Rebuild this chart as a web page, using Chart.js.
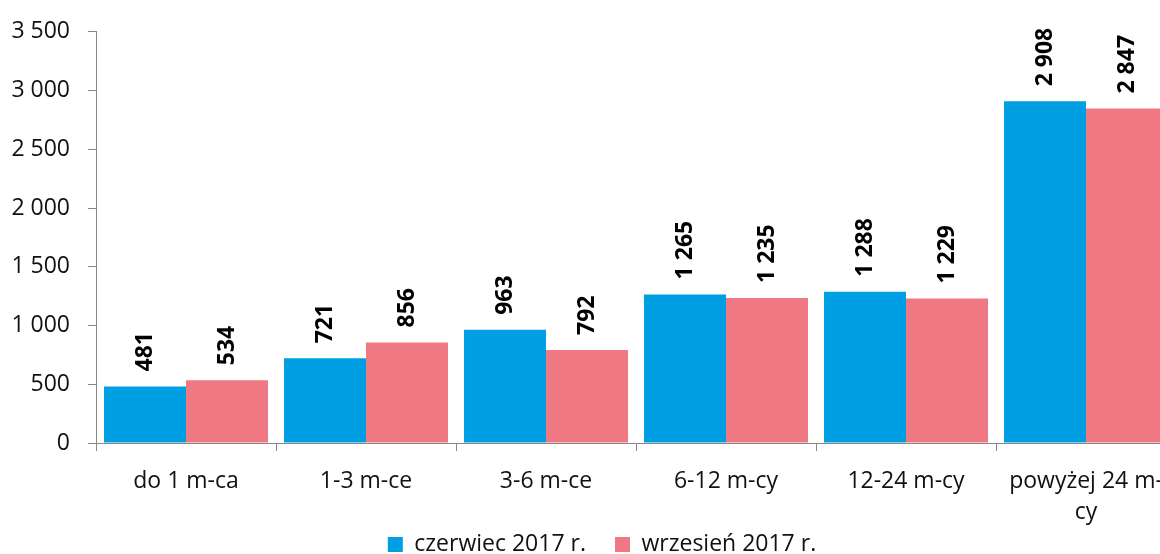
<!DOCTYPE html>
<html>
<head>
<meta charset="utf-8">
<script src="https://cdn.jsdelivr.net/npm/chart.js@4/dist/chart.umd.min.js"></script>
<style>
  html, body { margin: 0; padding: 0; background: #fff; overflow: hidden; }
  #wrap { position: relative; width: 1176px; height: 590px; }
</style>
</head>
<body>
<div id="wrap"><canvas id="chart"></canvas></div>
<script>
// Unemployed by duration of unemployment
const categories = ['do 1 m-ca', '1-3 m-ce', '3-6 m-ce', '6-12 m-cy', '12-24 m-cy', ['powyżej 24 m-', 'cy']];
const seriesNames = ['czerwiec 2017 r.', 'wrzesień 2017 r.'];
const czerwiec2017 = [481, 721, 963, 1265, 1288, 2908];
const wrzesien2017 = [534, 856, 792, 1235, 1229, 2847];
const yTickValues = [0, 500, 1000, 1500, 2000, 2500, 3000, 3500];
const yTickLabels = ['0', '500', '1 000', '1 500', '2 000', '2 500', '3 000', '3 500'];

const FONT = '"Open Sans", "Noto Sans", sans-serif';
const FONT_SIZE = 23;
const fmt = v => String(v).replace(/\B(?=(\d{3})+(?!\d))/g, ' ');

// Vertical value labels above each bar
const barValueLabels = {
  id: 'barValueLabels',
  afterDatasetsDraw(chart) {
    const { ctx } = chart;
    ctx.save();
    ctx.font = 'bold ' + FONT_SIZE + 'px ' + FONT;
    ctx.fillStyle = '#000';
    ctx.textAlign = 'left';
    ctx.textBaseline = 'middle';
    chart.data.datasets.forEach((ds, i) => {
      chart.getDatasetMeta(i).data.forEach((bar, j) => {
        ctx.save();
        ctx.translate(bar.x, bar.y - 15);
        ctx.rotate(-Math.PI / 2);
        ctx.fillText(fmt(ds.data[j]), 0, 0);
        ctx.restore();
      });
    });
    ctx.restore();
  }
};

// Move the legend row up close under the two-line axis labels, a bit right of centre
const legendOffset = {
  id: 'legendOffset',
  afterLayout(chart) {
    const lg = chart.legend;
    if (lg) {
      lg.left += 14;
      lg.right += 14;
      lg.top -= 24;
      lg.bottom -= 24;
    }
  }
};

new Chart(document.getElementById('chart'), {
  type: 'bar',
  data: {
    labels: categories,
    datasets: [
      { label: seriesNames[0], data: czerwiec2017, backgroundColor: '#009fe3', borderWidth: 0 },
      { label: seriesNames[1], data: wrzesien2017, backgroundColor: '#f07882', borderWidth: 0 }
    ]
  },
  options: {
    responsive: true,
    maintainAspectRatio: false,
    animation: false,
    datasets: { bar: { categoryPercentage: 0.911, barPercentage: 1.0 } },
    layout: { padding: { top: 29, left: 0, right: 0, bottom: 0 } },
    plugins: {
      legend: {
        position: 'bottom',
        labels: {
          boxWidth: 15,
          boxHeight: 15,
          padding: 29,
          color: '#111',
          font: { family: FONT, size: FONT_SIZE }
        }
      },
      tooltip: { enabled: false }
    },
    scales: {
      x: {
        grid: { display: true, drawOnChartArea: false, drawTicks: true, tickLength: 8, color: '#888', offset: true },
        border: { display: true, color: '#888', width: 1 },
        ticks: { color: '#111', padding: 15, maxRotation: 0, autoSkip: false, font: { family: FONT, size: FONT_SIZE, lineHeight: 1.35 } },
        afterFit(scale) {
          scale.height = 85;
          scale.paddingLeft = 0;
          scale.paddingRight = 0;
        }
      },
      y: {
        min: 0,
        max: 3500,
        afterBuildTicks(scale) { scale.ticks = yTickValues.map(v => ({ value: v })); },
        grid: { display: true, drawOnChartArea: false, drawTicks: true, tickLength: 8, color: '#888' },
        border: { display: true, color: '#888', width: 1 },
        ticks: {
          color: '#111',
          padding: 18,
          font: { family: FONT, size: FONT_SIZE },
          callback: (v) => yTickLabels[yTickValues.indexOf(v)]
        },
        afterFit(scale) { scale.width = 96; }
      }
    }
  },
  plugins: [barValueLabels, legendOffset]
});
</script>
</body>
</html>
